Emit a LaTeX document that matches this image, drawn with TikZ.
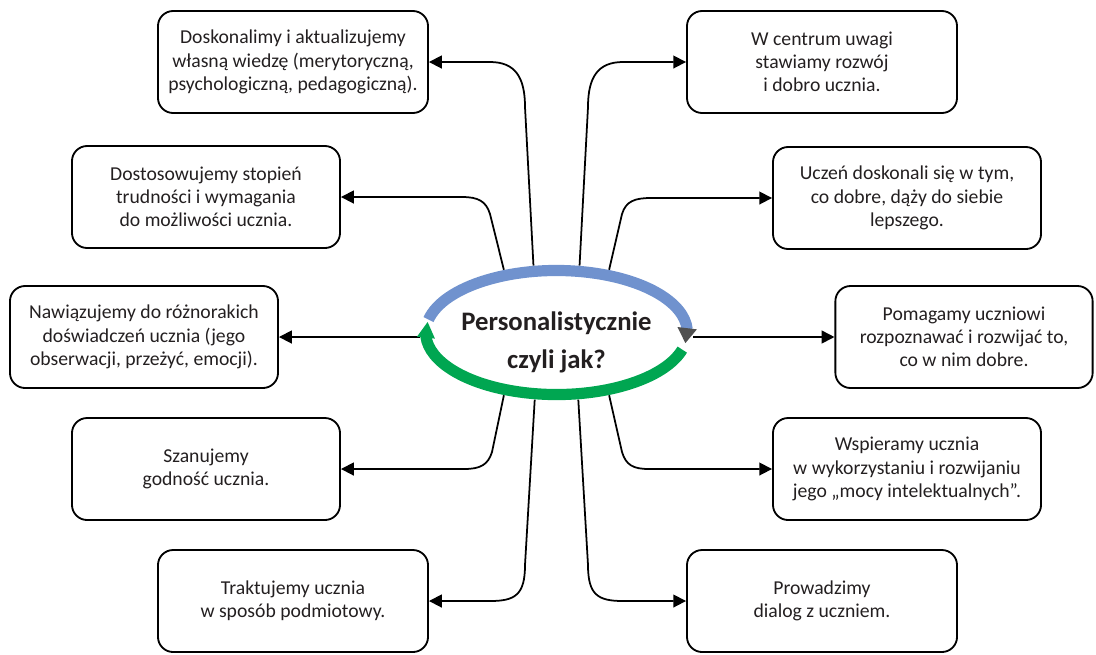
\documentclass[tikz,border=0pt]{standalone}
\usepackage{fontspec}
\setmainfont{Carlito}
\usetikzlibrary{arrows.meta,bending,shapes.geometric}

\begin{document}
\begin{tikzpicture}[x=0.025cm, y=-0.025cm,
  box/.style={draw, line width=1.3pt, rounded corners=0.38cm, align=center,
    minimum width=6.7cm, minimum height=2.55cm, inner sep=2pt, text=textgray,
    font=\fontsize{14}{16.5}\selectfont},
  conn/.style={line width=1.25pt, -{Triangle[length=0.32cm,width=0.32cm]}},
  ring/.style={line width=0.28cm}]

\definecolor{textgray}{RGB}{35,31,32}
\definecolor{ringblue}{RGB}{112,146,206}
\definecolor{ringgreen}{RGB}{0,166,81}
\definecolor{tipgray}{RGB}{80,80,80}

\useasboundingbox (0,0) rectangle (1096,654);

% Boxes first, left column then right column.
\node[box, minimum width=6.75cm] (l1) at (293,62)
  {Doskonalimy i aktualizujemy\\własną wiedzę (merytoryczną,\\psychologiczną, pedagogiczną).};
\node[box] (l2) at (206,197) {Dostosowujemy stopień\\trudności i wymagania\\do możliwości ucznia.};
\node[box] (l3) at (144,337) {Nawiązujemy do różnorakich\\doświadczeń ucznia (jego\\obserwacji, przeżyć, emocji).};
\node[box] (l4) at (206,469) {Szanujemy\\godność ucznia.};
\node[box, minimum width=6.75cm] (l5) at (293,601) {Traktujemy ucznia\\w sposób podmiotowy.};

\node[box, minimum width=6.75cm] (r1) at (822,62) {W centrum uwagi\\stawiamy rozwój\\i dobro ucznia.};
\node[box] (r2) at (907,198) {Uczeń doskonali się w tym,\\co dobre, dąży do siebie\\lepszego.};
\node[box, minimum width=6.43cm] (r3) at (964,337) {Pomagamy uczniowi\\rozpoznawać i rozwijać to,\\co w nim dobre.};
\node[box] (r4) at (907,469) {Wspieramy ucznia\\w wykorzystaniu i rozwijaniu\\jego „mocy intelektualnych”.};
\node[box, minimum width=6.75cm] (r5) at (822,601) {Prowadzimy\\dialog z uczniem.};

% The hub itself is only a shape to hang the connectors on;
% the coloured ring is drawn over it afterwards.
\node[ellipse, minimum width=6.83cm, minimum height=3.38cm, inner sep=0pt]
  (hub) at (556.5,332.5) {};
\node[align=center, text=textgray, font=\bfseries\fontsize{19}{27}\selectfont]
  (hubtext) at (556.5,342) {Personalistycznie\\czyli jak?};

% Connectors: up or down out of the ring, then round the corner.
\draw[conn] (hub.109) -- (525,107) .. controls +(0,-30) and +(25,0) .. (490,0 |- l1.east) -- (l1.east);
\draw[conn] (hub.130) -- (490,214) .. controls +(-4,-13) and +(16,0) .. (462,0 |- l2.east) -- (l2.east);
\draw[conn] (hub.west |- l3.east) -- (l3.east);
\draw[conn] (hub.230) -- (492,452) .. controls +(-4,13) and +(16,0) .. (464,0 |- l4.east) -- (l4.east);
\draw[conn] (hub.252) -- (525,565) .. controls +(0,30) and +(25,0) .. (490,0 |- l5.east) -- (l5.east);

\draw[conn] (hub.71) -- (588,107) .. controls +(0,-30) and +(-25,0) .. (623,0 |- r1.west) -- (r1.west);
\draw[conn] (hub.50) -- (622,214) .. controls +(4,-13) and +(-16,0) .. (651,0 |- r2.west) -- (r2.west);
\draw[conn] (hub.east |- r3.west) -- (r3.west);
\draw[conn] (hub.310) -- (622,452) .. controls +(4,13) and +(-16,0) .. (649,0 |- r4.west) -- (r4.west);
\draw[conn] (hub.288) -- (588,565) .. controls +(0,30) and +(-25,0) .. (623,0 |- r5.west) -- (r5.west);

% The ring: blue over the top, green back under the bottom.
\draw[ring, ringblue, -{Triangle[length=0.38cm,width=0.46cm,color=tipgray]}]
  (hub.center) ++(168:3.27cm and 1.55cm)
  arc[start angle=168, end angle=-10, x radius=3.27cm, y radius=1.55cm];
\draw[ring, ringgreen, -{Triangle[length=0.4cm,width=0.42cm]}]
  (hub.center) ++(-16:3.27cm and 1.55cm)
  arc[start angle=-16, end angle=-190, x radius=3.27cm, y radius=1.55cm];
\end{tikzpicture}
\end{document}
